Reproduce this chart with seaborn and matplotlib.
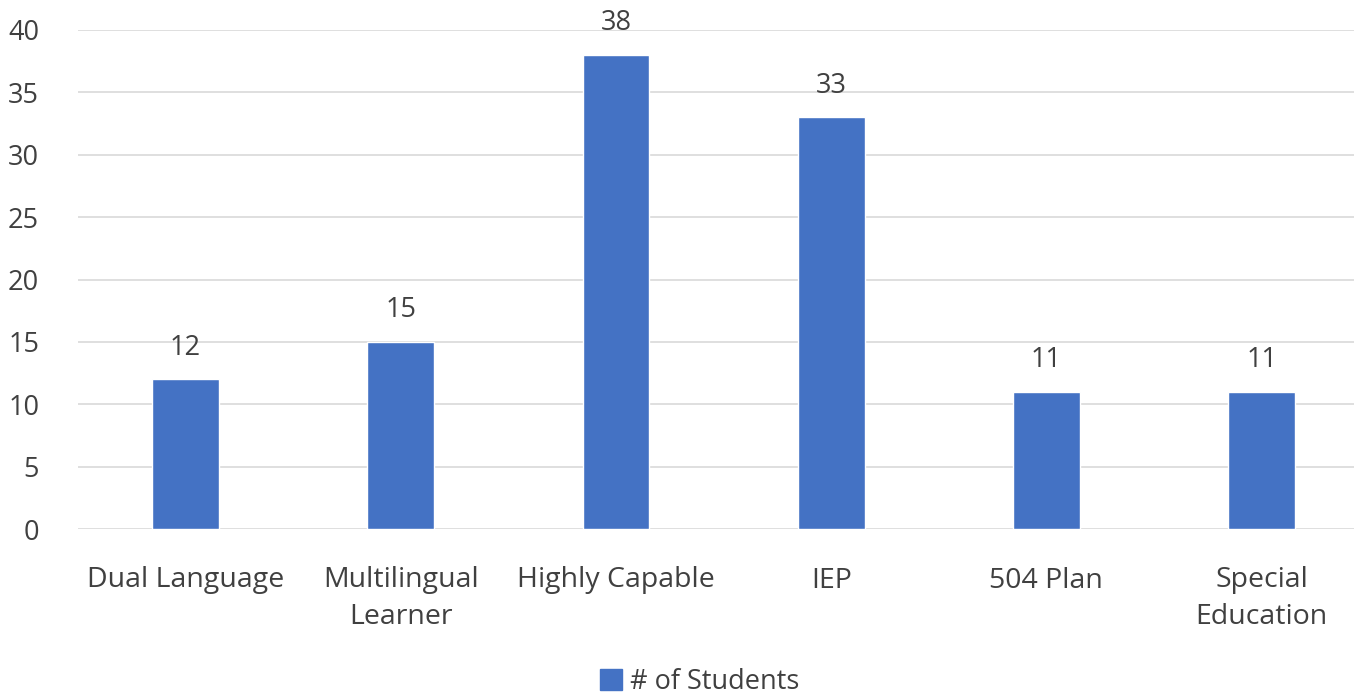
import matplotlib
matplotlib.use("Agg")
import matplotlib.pyplot as plt
import seaborn as sns
import pandas as pd
from matplotlib.patches import Patch

categories = ["Dual Language", "Multilingual\nLearner", "Highly Capable", "IEP", "504 Plan", "Special\nEducation"]
students = [12, 15, 38, 33, 11, 11]
yticks = [0, 5, 10, 15, 20, 25, 30, 35, 40]

df = pd.DataFrame({"cat": categories, "n": students})

sns.set_theme(style="white")
plt.rcParams['font.family'] = ['Open Sans', 'DejaVu Sans']

W, H = 1354, 697
fig = plt.figure(figsize=(W/100, H/100), dpi=100)
left, right = 78, 1354
top, bottom = 30, 529
ax = fig.add_axes([left/W, 1-bottom/H, (right-left)/W, (bottom-top)/H])

color = "#4472C4"
sns.barplot(data=df, x="cat", y="n", color=color, width=0.31, ax=ax, saturation=1)

cat_w = (1262-186)/5
ax.set_xlim(-0.5, -0.5 + (right-left)/cat_w)
ax.set_ylim(0, 40)
ax.set_yticks(yticks)
ax.set_yticklabels([str(v) for v in yticks], fontsize=19.5, color="#404040")
ax.tick_params(axis='x', labelsize=20.5, colors="#404040", pad=27, length=0)
for lbl in ax.get_xticklabels():
    lbl.set_linespacing(1.4)
ax.tick_params(axis='y', pad=28, length=0)
ax.set_xlabel("")
ax.set_ylabel("")
ax.yaxis.grid(True, color="#d9d9d9", linewidth=1.2)
ax.set_axisbelow(True)
for s in ax.spines.values():
    s.set_visible(False)

for i, v in enumerate(students):
    ax.text(i, v + 1.4, str(v), ha="center", va="bottom", fontsize=19.5, color="#404040")

handle = Patch(facecolor=color, edgecolor=color)
fig.legend([handle], ["# of Students"], loc="center", bbox_to_anchor=(700/W, 1-682/H),
           frameon=False, fontsize=19.5, handlelength=0.8, handleheight=0.8,
           handletextpad=0.3, labelcolor="#404040")

fig.savefig("out.png", dpi=100)
